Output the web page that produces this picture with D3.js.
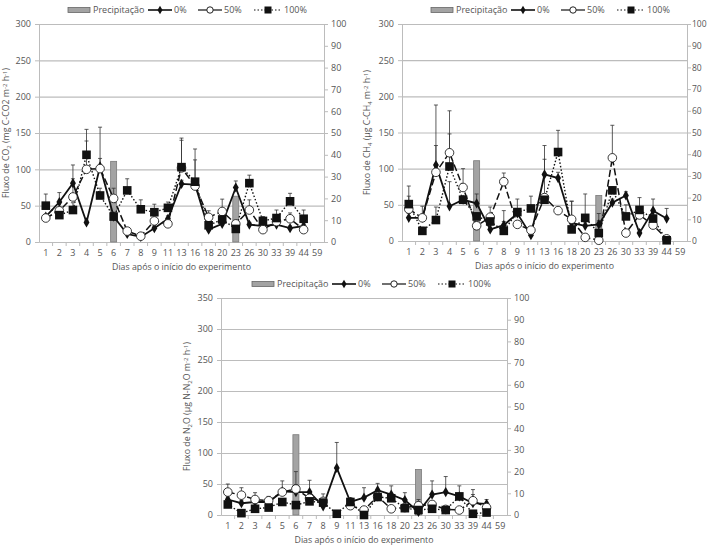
<!DOCTYPE html>
<html><head><meta charset="utf-8">
<script src="https://cdn.jsdelivr.net/npm/d3@7"></script>
<style>
html,body{margin:0;padding:0;background:#fff;}
svg{display:block;font-family:"Open Sans",sans-serif;}
</style></head>
<body>
<svg id="c" width="707" height="551"></svg>
<script>
// ---------- DATA ----------
const categories = ["1","2","3","4","5","6","7","8","9","11","13","16","18","20","23","26","30","33","39","44","59"];
const precipitation = [0,0,0,0,0,37,0,0,0,0,0,0,0,0,21,0,0,0,0,0,0];
const seriesNames = ["0%","50%","100%"];

// CO2 (mg C-CO2 m-2 h-1)
const co2_0   = [35,55,81,27,104,35,11,7,19,32,80,79,17,25,75,24,22,24,19,22,null];
const co2_50  = [33,43,62,100,101,60,15,8,29,25,102,77,34,42,25,44,17,28,32,17,null];
const co2_100 = [50,37,44,120,64,35,71,45,41,47,103,83,23,31,18,81,29,33,56,32,null];
const co2_err0   = [3,13,25,3,54,4,3,2,3,4,5,34,3,4,9,3,3,3,3,3,null];
const co2_err50  = [3,5,25,39,14,14,3,2,4,3,38,10,9,17,3,14,3,3,8,4,null];
const co2_err100 = [16,8,10,35,10,6,16,13,11,8,40,45,8,5,5,11,6,11,11,12,null];

// CH4 (ug C-CH4 m-2 h-1)
const ch4_0   = [32,32,105,48,57,52,16,22,38,8,92,87,25,21,23,53,63,11,42,31,null];
const ch4_50  = [44,32,95,122,74,21,33,82,23,15,60,42,30,5,1,115,11,36,22,3,null];
const ch4_100 = [51,14,29,103,57,34,27,14,40,45,57,123,16,32,11,70,34,43,31,1,null];
const ch4_err0   = [6,16,83,34,5,13,5,5,5,5,40,8,5,5,5,5,5,5,16,14,null];
const ch4_err50  = [18,5,37,58,26,5,14,12,5,5,5,5,25,5,3,45,5,5,5,3,null];
const ch4_err100 = [25,5,18,45,5,5,5,28,18,17,56,30,39,33,27,5,16,17,5,3,null];

// N2O (ug N-N2O m-2 h-1)
const n2o_0   = [25,19,21,21,38,37,37,14,76,21,28,40,33,24,5,33,37,30,19,18,null];
const n2o_50  = [37,32,25,23,37,42,27,22,null,15,8,30,10,12,15,17,9,8,23,12,null];
const n2o_100 = [17,3,10,12,21,16,22,20,2,21,0,29,27,11,8,10,8,30,2,4,null];
const n2o_err0   = [4,4,4,9,17,12,19,20,41,7,16,11,14,12,4,22,25,17,22,7,null];
const n2o_err50  = [13,12,11,5,5,28,5,5,null,5,3,5,3,3,10,5,3,3,10,3,null];
const n2o_err100 = [3,3,3,3,3,3,3,3,3,3,3,3,3,3,3,3,3,3,3,3,null];

const leftTicksCO2 = [0,50,100,150,200,250,300];
const leftTicksN2O = [0,50,100,150,200,250,300,350];
const rightTicks = [0,10,20,30,40,50,60,70,80,90,100];
const xTitle = "Dias após o início do experimento";
const legendLabel = "Precipitação";

// ---------- DRAW ----------
const svg = d3.select("#c");
const TXT = "#555", GRID = "#bcbcbc";

function drawPanel(cfg){
  const g = svg.append("g");
  const x = d3.scaleBand().domain(categories).range([cfg.left, cfg.right]);
  const bw = x.bandwidth();
  const cx = i => x(categories[i]) + bw/2;
  const yL = d3.scaleLinear().domain([0, cfg.yMax]).range([cfg.bottom, cfg.top]);
  const yR = d3.scaleLinear().domain([0, 100]).range([cfg.bottom, cfg.top]);

  // grid
  g.selectAll(".grid").data(cfg.leftTicks.filter(t=>t>0)).join("line")
    .attr("x1", cfg.left).attr("x2", cfg.right)
    .attr("y1", d=>yL(d)+0.5).attr("y2", d=>yL(d)+0.5)
    .attr("stroke", GRID).attr("stroke-width", 1.2);

  // left axis
  const la = g.append("g").attr("transform", `translate(${cfg.left},0)`)
    .call(d3.axisLeft(yL).tickValues(cfg.leftTicks).tickSize(4).tickPadding(4));
  la.select(".domain").attr("stroke", GRID);
  la.selectAll(".tick line").attr("stroke", GRID);
  la.selectAll("text").attr("fill", TXT).attr("font-size", 9).attr("font-family","Open Sans");

  // right axis
  const ra = g.append("g").attr("transform", `translate(${cfg.right},0)`)
    .call(d3.axisRight(yR).tickValues(rightTicks).tickSize(4).tickPadding(cfg.rPad));
  ra.select(".domain").attr("stroke", GRID);
  ra.selectAll(".tick line").attr("stroke", GRID);
  ra.selectAll("text").attr("fill", TXT).attr("font-size", cfg.rFont).attr("font-family","Open Sans");

  // bottom axis
  const ba = g.append("g").attr("transform", `translate(0,${cfg.bottom})`)
    .call(d3.axisBottom(x).tickSize(0).tickPadding(8));
  ba.select(".domain").attr("stroke", GRID);
  ba.selectAll("text").attr("fill", TXT).attr("font-size", 9).attr("font-family","Open Sans");
  g.selectAll(".xt").data(categories.slice(1)).join("line")
    .attr("x1", d=>x(d)).attr("x2", d=>x(d))
    .attr("y1", cfg.bottom).attr("y2", cfg.bottom+4).attr("stroke", GRID);

  // precipitation bars
  const pw = 6;
  g.selectAll(".bar").data(precipitation.map((v,i)=>({v,i})).filter(d=>d.v>0)).join("rect")
    .attr("x", d=>cx(d.i)-pw/2).attr("width", pw)
    .attr("y", d=>yR(d.v)).attr("height", d=>cfg.bottom - yR(d.v))
    .attr("fill", "#a3a3a3").attr("stroke", "#7a7a7a").attr("stroke-width", 0.8);

  const styles = [
    {dash:null, w:1.8},
    {dash:"7,3", w:1.5},
    {dash:"1.5,2", w:1.4}
  ];
  // lines
  cfg.series.forEach((s,k)=>{
    g.append("path").datum(s)
      .attr("d", d3.line().defined(d=>d!=null).x((d,i)=>cx(i)).y(d=>yL(d)))
      .attr("fill","none").attr("stroke","#111").attr("stroke-width", styles[k].w)
      .attr("stroke-dasharray", styles[k].dash);
  });
  // error bars
  cfg.series.forEach((s,k)=>{
    const e = cfg.errors[k];
    const pts = s.map((v,i)=>({v,e:e[i],i})).filter(d=>d.v!=null && d.e!=null && d.e>0);
    g.selectAll(null).data(pts).join("line")
      .attr("x1", d=>cx(d.i)).attr("x2", d=>cx(d.i))
      .attr("y1", d=>yL(d.v)).attr("y2", d=>yL(d.v+d.e))
      .attr("stroke","#333").attr("stroke-width",0.8);
    g.selectAll(null).data(pts).join("line")
      .attr("x1", d=>cx(d.i)-2).attr("x2", d=>cx(d.i)+2)
      .attr("y1", d=>yL(d.v+d.e)).attr("y2", d=>yL(d.v+d.e))
      .attr("stroke","#333").attr("stroke-width",0.8);
  });
  // markers
  cfg.series.forEach((s,k)=>{
    const pts = s.map((v,i)=>({v,i})).filter(d=>d.v!=null);
    if(k===0){
      g.selectAll(null).data(pts).join("path")
        .attr("d", d3.symbol(d3.symbolDiamond, 30))
        .attr("transform", d=>`translate(${cx(d.i)},${yL(d.v)})`)
        .attr("fill","#111");
    } else if(k===1){
      g.selectAll(null).data(pts).join("circle")
        .attr("cx", d=>cx(d.i)).attr("cy", d=>yL(d.v)).attr("r",4.3)
        .attr("fill","#fff").attr("stroke","#222").attr("stroke-width",0.9);
    } else {
      g.selectAll(null).data(pts).join("rect")
        .attr("x", d=>cx(d.i)-4.3).attr("y", d=>yL(d.v)-4.3)
        .attr("width",8.6).attr("height",8.6).attr("fill","#111");
    }
  });

  // x title
  g.append("text").attr("x",(cfg.left+cfg.right)/2).attr("y",cfg.bottom+28)
    .attr("text-anchor","middle").attr("font-size",8.8).attr("fill",TXT).text(xTitle);

  // y title
  const yt = g.append("text")
    .attr("transform",`translate(${cfg.ytx},${(cfg.top+cfg.bottom)/2}) rotate(-90)`)
    .attr("text-anchor","middle").attr("font-size",8.8).attr("fill",TXT);
  cfg.ytitle.forEach(p=>{
    const t = yt.append("tspan").text(p[0]);
    if(p[1]==="sub"){ t.attr("baseline-shift","-25%").attr("font-size",6); }
    if(p[1]==="sup"){ t.attr("baseline-shift","35%").attr("font-size",6); }
  });

  // legend
  const ly = cfg.legendY, lx = cfg.left + cfg.legendDx;
  const lg = g.append("g");
  lg.append("rect").attr("x",lx).attr("y",ly-2.5).attr("width",22).attr("height",5)
    .attr("fill","#a3a3a3").attr("stroke","#666").attr("stroke-width",0.8);
  lg.append("text").attr("x",lx+25).attr("y",ly).attr("dy","0.35em")
    .attr("font-size",9).attr("fill",TXT).text(legendLabel);
  const items = [{x0:lx+80,x1:lx+104},{x0:lx+130,x1:lx+154},{x0:lx+186,x1:lx+214}];
  items.forEach((it,k)=>{
    lg.append("line").attr("x1",it.x0).attr("x2",it.x1).attr("y1",ly).attr("y2",ly)
      .attr("stroke","#111").attr("stroke-width",k===0?1.6:1.2)
      .attr("stroke-dasharray", k===2?"1.5,2":null);
    const mx=(it.x0+it.x1)/2;
    if(k===0) lg.append("path").attr("d",d3.symbol(d3.symbolDiamond,22)()).attr("transform",`translate(${mx},${ly})`).attr("fill","#111");
    if(k===1) lg.append("circle").attr("cx",mx).attr("cy",ly).attr("r",3.2).attr("fill","#fff").attr("stroke","#222");
    if(k===2) lg.append("rect").attr("x",mx-3.5).attr("y",ly-3.5).attr("width",7).attr("height",7).attr("fill","#111");
    lg.append("text").attr("x",it.x1+2).attr("y",ly).attr("dy","0.35em")
      .attr("font-size",9).attr("fill",TXT).text(seriesNames[k]);
  });
}

drawPanel({left:39,right:324,top:24,bottom:242,yMax:300,leftTicks:leftTicksCO2,
  series:[co2_0,co2_50,co2_100],errors:[co2_err0,co2_err50,co2_err100],
  ytx:9,legendY:10,legendDx:29,rPad:3,rFont:9,
  ytitle:[["Fluxo de CO"],["2","sub"],[" (mg C-CO2 m"],["-2","sup"],[" h"],["-1","sup"],[")"]]});

drawPanel({left:402,right:687,top:24,bottom:241,yMax:300,leftTicks:leftTicksCO2,
  series:[ch4_0,ch4_50,ch4_100],errors:[ch4_err0,ch4_err50,ch4_err100],
  ytx:370,legendY:10,legendDx:29,rPad:1,rFont:8.5,
  ytitle:[["Fluxo de CH"],["4","sub"],[" (µg C-CH"],["4","sub"],[" m"],["-2","sup"],[" h"],["-1","sup"],[")"]]});

drawPanel({left:221,right:507,top:298,bottom:515,yMax:350,leftTicks:leftTicksN2O,
  series:[n2o_0,n2o_50,n2o_100],errors:[n2o_err0,n2o_err50,n2o_err100],
  ytx:190,legendY:284,legendDx:31,rPad:3,rFont:9,
  ytitle:[["Fluxo de N"],["2","sub"],["O (µg N-N"],["2","sub"],["O m"],["-2","sup"],[" h"],["-1","sup"],[")"]]});
</script>
</body></html>
